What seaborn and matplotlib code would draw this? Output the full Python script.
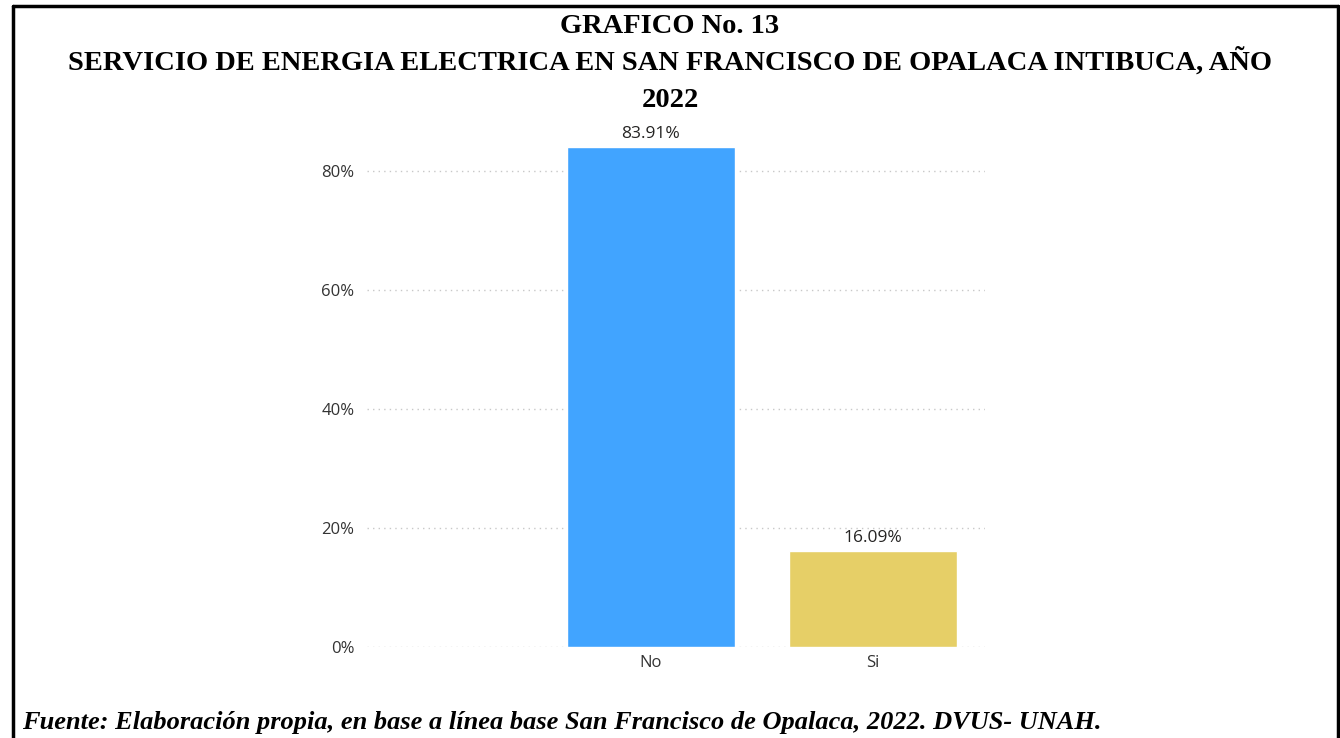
import matplotlib
matplotlib.use("Agg")
import matplotlib.pyplot as plt
from matplotlib.lines import Line2D
from matplotlib.ticker import FuncFormatter
import pandas as pd
import seaborn as sns

categorias = ["No", "Si"]
porcentajes = [83.91, 16.09]
colores = ["#41A4FF", "#E6CF67"]
y_ticks = [0, 20, 40, 60, 80]

titulo = ["GRAFICO No. 13",
          "SERVICIO DE ENERGIA ELECTRICA EN SAN FRANCISCO DE OPALACA INTIBUCA, AÑO",
          "2022"]
fuente = "Fuente: Elaboración propia, en base a línea base San Francisco de Opalaca, 2022. DVUS- UNAH."

df = pd.DataFrame({"categoria": categorias, "porcentaje": porcentajes})

sns.set_style("white")
plt.rcParams['font.family'] = ['Open Sans', 'DejaVu Sans']

W, H = 1340, 738
fig = plt.figure(figsize=(W / 100, H / 100), dpi=100)
ax = fig.add_axes([367 / W, 1 - 647 / H, (985 - 367) / W, (647 - 123) / H])

sns.barplot(data=df, x="categoria", y="porcentaje", hue="categoria",
            palette=colores, width=0.757, legend=False, ax=ax, saturation=1)

ax.set_xlim(-1.279, 1.505)
ax.set_ylim(0, 88)
ax.set_yticks(y_ticks)
ax.yaxis.set_major_formatter(FuncFormatter(lambda v, _: f"{v:.0f}%"))
ax.grid(axis="y", linestyle=(0, (1, 3)), color="#C8C8C8", linewidth=1)
ax.set_axisbelow(True)
for s in ax.spines.values():
    s.set_visible(False)
ax.set_xlabel("")
ax.set_ylabel("")
ax.tick_params(axis="both", length=0, labelsize=12, colors="#333333", pad=6)
ax.tick_params(axis="y", pad=9)

for p, v in zip(ax.patches, porcentajes):
    ax.annotate(f"{v:.2f}%", (p.get_x() + p.get_width() / 2, p.get_height()),
                xytext=(0, 4), textcoords="offset points", ha="center", va="bottom",
                fontsize=12.5, color="#252423")

for linea, base in zip(titulo, [33, 70, 107]):
    fig.text(0.5, 1 - base / H, linea, ha="center", va="baseline", fontsize=20.5,
             fontweight="bold", family="Liberation Serif", color="black")
fig.text(22 / W, 1 - 729 / H, fuente, ha="left", va="baseline", fontsize=19,
         fontweight="bold", fontstyle="italic", family="Liberation Serif", color="black")

# marco
lw = 2.5
fig.add_artist(Line2D([13 / W, 13 / W], [0, 1 - 6 / H], color="black", lw=lw, transform=fig.transFigure))
fig.add_artist(Line2D([13 / W, 1338 / W], [1 - 6 / H, 1 - 6 / H], color="black", lw=lw, transform=fig.transFigure))
fig.add_artist(Line2D([1338 / W, 1338 / W], [0, 1 - 6 / H], color="black", lw=lw, transform=fig.transFigure))

fig.savefig("out.png", dpi=100)
